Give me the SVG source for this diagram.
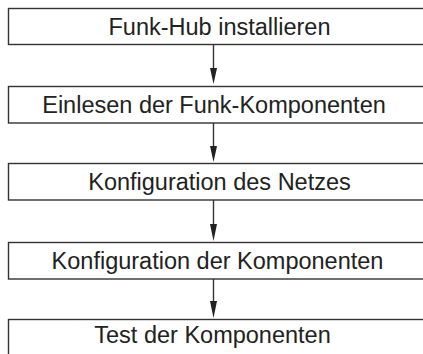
<svg xmlns="http://www.w3.org/2000/svg" width="423" height="354" viewBox="0 0 423 354">
<defs>
<style>
.box{fill:#fff;stroke:#333;stroke-width:1.4}
.lbl{font-family:"Liberation Sans",Arial,sans-serif;font-size:23.5px;fill:#222;text-anchor:middle}
.con{stroke:#333;stroke-width:1.4;fill:none}
.head{fill:#222}
</style>
</defs>
<rect width="423" height="354" fill="#fff"/>
<g id="n1"><rect class="box" x="8.5" y="8.5" width="420" height="36"/><text class="lbl" x="219.5" y="34.5">Funk-Hub installieren</text></g>
<g id="n2"><rect class="box" x="8.5" y="86.5" width="420" height="36.5"/><text class="lbl" x="214" y="113">Einlesen der Funk-Komponenten</text></g>
<g id="n3"><rect class="box" x="8.5" y="163.5" width="420" height="36.5"/><text class="lbl" x="219.5" y="190">Konfiguration des Netzes</text></g>
<g id="n4"><rect class="box" x="8.5" y="242.5" width="420" height="36.5"/><text class="lbl" x="217.5" y="269">Konfiguration der Komponenten</text></g>
<g id="n5"><rect class="box" x="8.5" y="319.5" width="420" height="40"/><text class="lbl" x="212.5" y="343">Test der Komponenten</text></g>
<g id="connectors">
<path class="con" d="M213.5,44.5 V70"/><path class="head" d="M210,68 L217,68 L213.5,84 Z"/>
<path class="con" d="M213.5,123 V148"/><path class="head" d="M210,146 L217,146 L213.5,162 Z"/>
<path class="con" d="M213.5,200 V226"/><path class="head" d="M210,224 L217,224 L213.5,241 Z"/>
<path class="con" d="M213.5,279 V303"/><path class="head" d="M210,301 L217,301 L213.5,318 Z"/>
</g>
</svg>
